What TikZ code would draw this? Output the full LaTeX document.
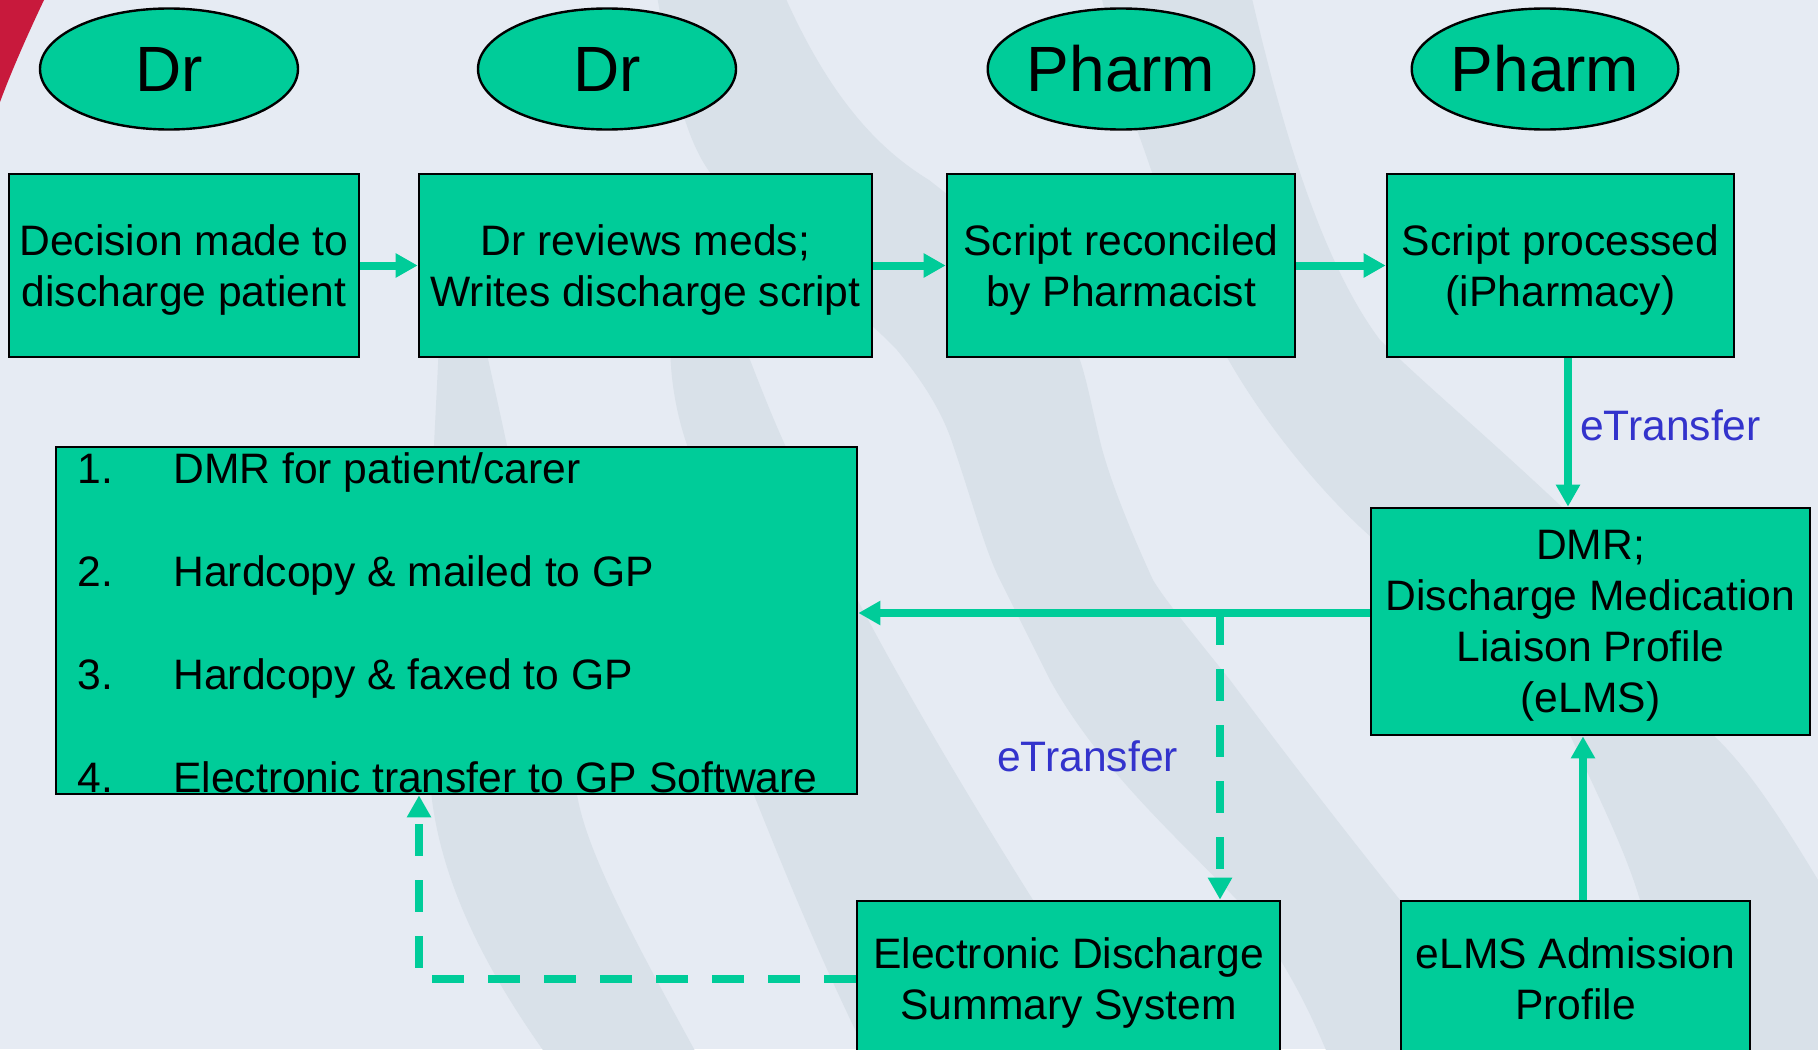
\documentclass[tikz,border=0pt]{standalone}
\usepackage{fontspec}
\setmainfont{Liberation Sans}
\usetikzlibrary{shapes.geometric,arrows.meta,positioning}
\definecolor{mint}{RGB}{0,204,153}
\definecolor{paper}{RGB}{230,235,243}
\definecolor{swoosh}{RGB}{217,225,233}
\definecolor{linkblue}{RGB}{51,51,204}
\definecolor{crimson}{RGB}{200,25,60}

\begin{document}
\begin{tikzpicture}[x=0.5pt, y=-0.5pt, >={Triangle[width=11.5pt,length=11pt]},
    role/.style={ellipse, draw=black, line width=1.2pt, fill=mint, minimum width=129pt, minimum height=60.5pt, inner sep=0pt, font=\fontsize{32}{36}\selectfont},
    stepbox/.style={rectangle, draw=black, line width=1.35pt, fill=mint, align=center, inner sep=0pt, text depth=0pt, minimum height=91.5pt, font=\fontsize{21.3}{25.5}\selectfont},
    listtext/.style={anchor=base west, inner sep=0pt, font=\fontsize{21.3}{25.5}\selectfont},
    flow/.style={draw=mint, line width=4pt, ->},
    flowdash/.style={flow, dash pattern=on 16pt off 12pt},
    tag/.style={text=linkblue, inner sep=1pt, font=\fontsize{21.3}{25.5}\selectfont}]

    % backdrop
    \useasboundingbox (0,0) rectangle (1818,1049);
    \fill[paper] (0,0) rectangle (1818,1049);
    \begin{scope}
        \clip (0,0) rectangle (1818,1049);
        \fill[swoosh] (445,175) .. controls (440,420) and (415,650) .. (432,800)
            .. controls (445,900) and (500,990) .. (550,1060)
            -- (700,1060) .. controls (640,950) and (590,860) .. (578,800)
            .. controls (540,600) and (500,400) .. (445,175) -- cycle;
        \fill[swoosh] (700,190) .. controls (660,300) and (665,380) .. (687,445)
            .. controls (710,560) and (730,720) .. (752,790)
            .. controls (780,860) and (820,960) .. (870,1060)
            -- (1110,1060) .. controls (1080,990) and (1060,940) .. (1033,900)
            .. controls (920,720) and (830,560) .. (785,445)
            .. controls (760,390) and (740,330) .. (725,300)
            .. controls (715,260) and (710,220) .. (700,190) -- cycle;
        \fill[swoosh] (656,-10) .. controls (675,100) and (690,150) .. (716,180)
            .. controls (780,260) and (850,300) .. (897,350)
            .. controls (930,390) and (945,420) .. (953,445)
            .. controls (975,510) and (985,550) .. (1000,580)
            .. controls (1020,620) and (1035,650) .. (1050,680)
            .. controls (1100,770) and (1180,840) .. (1237,900)
            .. controls (1280,950) and (1310,1010) .. (1330,1060)
            -- (1510,1060) .. controls (1460,980) and (1430,940) .. (1400,900)
            .. controls (1320,800) and (1260,720) .. (1230,680)
            .. controls (1190,630) and (1165,600) .. (1153,580)
            .. controls (1130,530) and (1110,480) .. (1101,445)
            .. controls (1090,400) and (1085,370) .. (1076,350)
            .. controls (1030,260) and (980,220) .. (929,180)
            .. controls (880,150) and (830,100) .. (782,-10) -- cycle;
        \fill[swoosh] (1100,-10) .. controls (1115,60) and (1125,100) .. (1136,127)
            .. controls (1170,220) and (1190,300) .. (1223,350)
            .. controls (1250,400) and (1300,470) .. (1360,527)
            .. controls (1450,610) and (1530,650) .. (1570,735)
            .. controls (1600,800) and (1625,850) .. (1640,900)
            .. controls (1650,950) and (1655,1000) .. (1660,1060)
            -- (1900,1060) -- (1900,960) .. controls (1850,900) and (1830,885) .. (1818,880)
            .. controls (1770,800) and (1740,760) .. (1713,735)
            .. controls (1660,640) and (1620,560) .. (1563,508)
            .. controls (1480,430) and (1420,380) .. (1380,340)
            .. controls (1320,260) and (1280,120) .. (1250,-10) -- cycle;
        \fill[swoosh] (1690,975) .. controls (1750,990) and (1790,1010) .. (1830,1050)
            -- (1830,1060) -- (1690,1060) -- cycle;
    \end{scope}
    \fill[crimson] (0,0) -- (44,0) .. controls (25,40) and (10,75) .. (0,102) -- cycle;

    % who does it
    \node[role] (dr1)    at (169,69)  {Dr};
    \node[role] (dr2)    at (607,69)  {Dr};
    \node[role] (pharm1) at (1121,69) {Pharm};
    \node[role] (pharm2) at (1545,69) {Pharm};

    % steps
    \node[stepbox, minimum width=175pt]   (decide)  at (184,265.5)    {Decision made to\\discharge patient};
    \node[stepbox, minimum width=226.5pt] (review)  at (645.5,265.5)  {Dr reviews meds;\\Writes discharge script};
    \node[stepbox, minimum width=174pt]   (recon)   at (1121,265.5)   {Script reconciled\\by Pharmacist};
    \node[stepbox, minimum width=173.5pt] (process) at (1560.5,265.5) {Script processed\\(iPharmacy)};
    \node[stepbox, minimum width=219.5pt, minimum height=113.5pt] (dmr) at (1590.5,621.5)
        {DMR;\\Discharge Medication\\Liaison Profile\\(eLMS)};
    \node[stepbox, minimum width=400.5pt, minimum height=173.5pt] (outlist) at (456.5,620.5) {};
    \node[stepbox, minimum width=211.5pt, minimum height=78pt] (edss) at (1068.5,979) {Electronic Discharge\\Summary System};
    \node[stepbox, minimum width=174.5pt, minimum height=78pt] (admit) at (1575.5,979) {eLMS Admission\\Profile};

    % output routes
    \node[listtext] (num1) at (77,483)  {1.};
    \node[listtext] (txt1) at (173,483) {DMR for patient/carer};
    \node[listtext] (num2) at (77,586)  {2.};
    \node[listtext] (txt2) at (173,586) {Hardcopy \& mailed to GP};
    \node[listtext] (num3) at (77,689)  {3.};
    \node[listtext] (txt3) at (173,689) {Hardcopy \& faxed to GP};
    \node[listtext] (num4) at (77,792)  {4.};
    \node[listtext] (txt4) at (173,792) {Electronic transfer to GP Software};

    % connectors
    \draw[flow] (decide) -- (review);
    \draw[flow] (review) -- (recon);
    \draw[flow] (recon) -- (process);
    \draw[flow] ([xshift=3.75pt]process.south) coordinate (drop)
        -- node[tag, right=3pt, pos=0.45] (tag1) {eTransfer} (drop |- dmr.north);
    \draw[flow] ([yshift=4.25pt]dmr.west) coordinate (split) -- (split -| outlist.east);
    \coordinate (fork) at (1220,613);
    \draw[flowdash] (fork) -- node[tag, left=18pt, midway] (tag2) {eTransfer} (fork |- edss.north);
    \draw[flowdash] (edss.west) -| ([xshift=-18.75pt]outlist.south);
    \draw[flow] ([xshift=3.75pt]admit.north) coordinate (rise) -- (rise |- dmr.south);
\end{tikzpicture}
\end{document}
